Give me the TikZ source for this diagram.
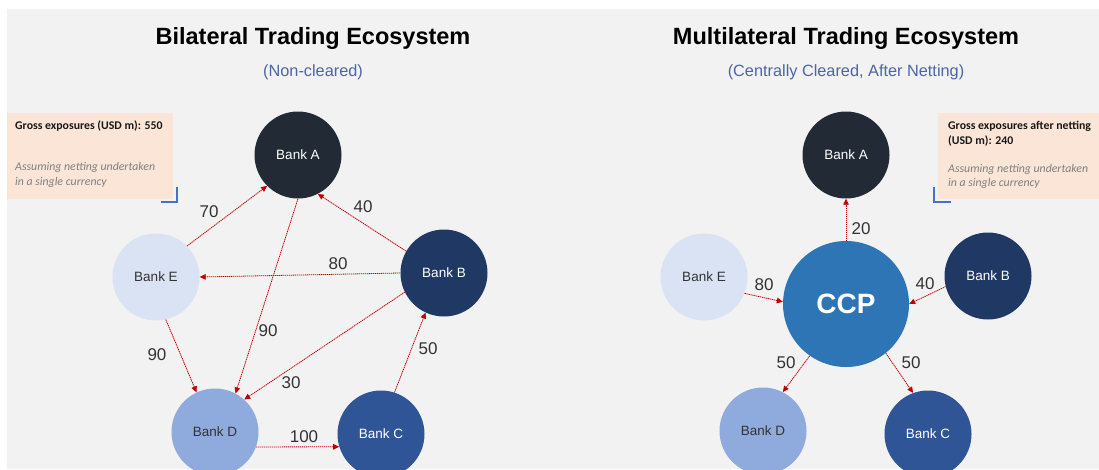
\documentclass[tikz,border=0pt]{standalone}
\usepackage{fontspec}
\setmainfont{Liberation Sans}
\newfontfamily\calib{Carlito}
\usetikzlibrary{arrows.meta}
\definecolor{bg}{HTML}{F2F2F2}
\definecolor{cA}{HTML}{222A35}
\definecolor{cB}{HTML}{203864}
\definecolor{cC}{HTML}{2F5597}
\definecolor{cD}{HTML}{8FAADC}
\definecolor{cE}{HTML}{DAE3F3}
\definecolor{cCCP}{HTML}{2E75B6}
\definecolor{arr}{HTML}{C00000}
\definecolor{sub}{HTML}{4C65A8}
\definecolor{boxfill}{HTML}{FBE5D6}
\definecolor{mark}{HTML}{4472C4}
\definecolor{lbl}{HTML}{333333}
\definecolor{itx}{HTML}{7F7F7F}
\tikzset{
  bank/.style={circle, minimum size=87pt, inner sep=0pt, font=\fontsize{13.5}{15}\selectfont},
  darkbank/.style={bank, text=white},
  lightbank/.style={bank, text=lbl},
  flow/.style={draw=arr, line width=0.8pt, dash pattern=on 1.3pt off 0.7pt, -{Triangle[length=6pt,width=5.5pt]}},
  num/.style={font=\fontsize{17}{19}\selectfont, text=lbl, inner sep=0pt},
  ttl/.style={font=\fontsize{23.5}{26}\selectfont\bfseries, text=black, inner sep=0pt},
  subttl/.style={font=\fontsize{16.3}{18}\selectfont, text=sub, inner sep=0pt},
  infobox/.style={fill=boxfill, draw=none},
  boldtxt/.style={font=\calib\fontsize{11.8}{14}\selectfont\bfseries, text=black!90, anchor=base west, inner sep=0pt},
  itxt/.style={font=\calib\fontsize{11.8}{14}\selectfont\itshape, text=itx, anchor=base west, inner sep=0pt},
  cornermark/.style={draw=mark, line width=2.5pt}
}
\begin{document}
\begin{tikzpicture}[x=1pt,y=-1pt]
\useasboundingbox (0,0) rectangle (1099,469);
\fill[bg] (7,9) rectangle (1099,469);
\begin{scope}
\clip (7,9) rectangle (1099,469);

% ---------- Left: bilateral ----------
\node[ttl] (t1) at (313,38) {Bilateral Trading Ecosystem};
\node[subttl] (s1) at (313,72) {(Non-cleared)};

\fill[infobox] (6,113) rectangle (173,199);
\node[boldtxt] (g1) at (15,129) {Gross exposures (USD m): 550};
\node[itxt] (i1a) at (15,170) {Assuming netting undertaken};
\node[itxt] (i1b) at (15,185) {in a single currency};
\draw[cornermark] (177,187) -- (177,202) -- (161,202);

\node[darkbank, fill=cA] (A) at (298,155) {Bank A};
\node[darkbank, fill=cB] (B) at (444,273) {Bank B};
\node[darkbank, fill=cC] (C) at (381,434) {Bank C};
\node[lightbank, fill=cD] (D) at (215,432) {Bank D};
\node[lightbank, fill=cE] (E) at (156,277) {Bank E};

\draw[flow] (E.45) -- (A.225);
\draw[flow] (B.150) -- (A.297);
\draw[flow] (B.180) -- (E.0);
\draw[flow] (A.-90) -- (D.62);
\draw[flow] (B.206) -- (D.48);
\draw[flow] (E.283) -- (D.115);
\draw[flow] (D.-20) -- (C.197);
\draw[flow] (C.72) -- (B.245);

\node[num] (l70) at (209,212) {70};
\node[num] (l40) at (363,207) {40};
\node[num] (l80) at (338,264) {80};
\node[num] (l90a) at (268,331) {90};
\node[num] (l30) at (291,383) {30};
\node[num] (l90b) at (157,355) {90};
\node[num] (l100) at (304,437) {100};
\node[num] (l50) at (428,349) {50};

% ---------- Right: multilateral ----------
\node[ttl] (t2) at (846,38) {Multilateral Trading Ecosystem};
\node[subttl] (s2) at (846,72) {(Centrally Cleared, After Netting)};

\fill[infobox] (938,113) rectangle (1099,199);
\node[boldtxt] (g2a) at (948,129) {Gross exposures after netting};
\node[boldtxt] (g2b) at (948,144) {(USD m): 240};
\node[itxt] (i2a) at (948,172) {Assuming netting undertaken};
\node[itxt] (i2b) at (948,186) {in a single currency};
\draw[cornermark] (934,187) -- (934,202) -- (951,202);

\node[darkbank, fill=cA] (A2) at (846,155) {Bank A};
\node[circle, minimum size=126pt, inner sep=0pt, fill=cCCP, text=white, font=\fontsize{28}{30}\selectfont\bfseries] (CCP) at (846,304) {CCP};
\node[lightbank, fill=cE] (E2) at (704,277) {Bank E};
\node[darkbank, fill=cB] (B2) at (988,276) {Bank B};
\node[lightbank, fill=cD] (D2) at (763,431) {Bank D};
\node[darkbank, fill=cC] (C2) at (928,434) {Bank C};

\draw[flow] (CCP.90) -- (A2.-90);
\draw[flow] (E2.-22) -- (CCP.178);
\draw[flow] (B2.194) -- (CCP.0);
\draw[flow] (CCP.235) -- (D2.63);
\draw[flow] (CCP.309) -- (C2.110);

\node[num] (r20) at (861,229) {20};
\node[num] (r80) at (764,285) {80};
\node[num] (r40) at (925,284) {40};
\node[num] (r50a) at (786,363) {50};
\node[num] (r50b) at (911,363) {50};
\end{scope}
\end{tikzpicture}
\end{document}
